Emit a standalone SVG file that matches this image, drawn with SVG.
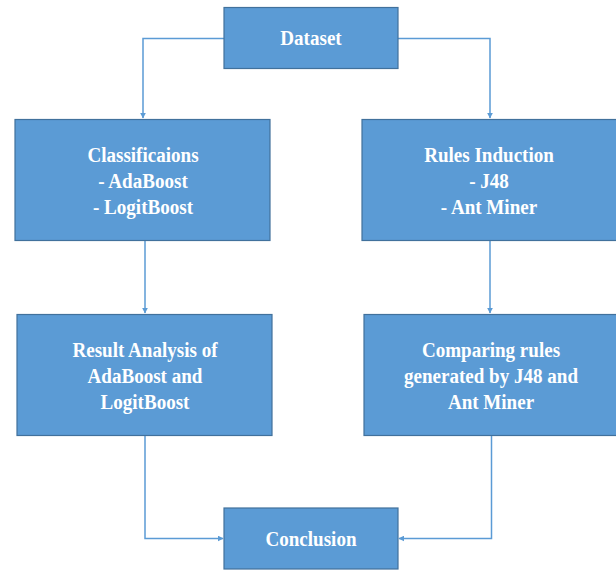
<svg xmlns="http://www.w3.org/2000/svg" width="616" height="571" viewBox="0 0 616 571">
<style>
.box{fill:#5B9BD5;stroke:#41719C;stroke-width:1.2}
.t{fill:#fff;font-family:"Liberation Serif","Times New Roman",serif;font-weight:bold;font-size:20.5px;text-anchor:middle}
.c{fill:none;stroke:#5B9BD5;stroke-width:1.5}
</style>
<defs>
<marker id="ah" viewBox="0 0 10 10" refX="9" refY="5" markerWidth="6" markerHeight="6" orient="auto" markerUnits="userSpaceOnUse">
<path d="M0,0 L10,5 L0,10 z" fill="#5B9BD5"/>
</marker>
</defs>
<rect width="616" height="571" fill="#fff"/>
<g id="connectors">
<path class="c" d="M224,38.5 H143 V118" marker-end="url(#ah)"/>
<path class="c" d="M398,38.5 H490 V118" marker-end="url(#ah)"/>
<path class="c" d="M145,241 V313" marker-end="url(#ah)"/>
<path class="c" d="M490,241 V313" marker-end="url(#ah)"/>
<path class="c" d="M145,436 V538.5 H223" marker-end="url(#ah)"/>
<path class="c" d="M491.5,436 V538.5 H399" marker-end="url(#ah)"/>
</g>
<g id="dataset">
<rect class="box" x="224" y="7.5" width="174" height="61"/>
<text class="t" transform="translate(311,45) scale(0.93,1)">Dataset</text>
</g>
<g id="classifications">
<rect class="box" x="15" y="119.5" width="255" height="121"/>
<text class="t" transform="translate(143,162) scale(0.93,1)">Classificaions</text>
<text class="t" transform="translate(143,188) scale(0.93,1)">- AdaBoost</text>
<text class="t" transform="translate(143,214) scale(0.93,1)">- LogitBoost</text>
</g>
<g id="rules">
<rect class="box" x="362" y="119.5" width="260" height="121"/>
<text class="t" transform="translate(489,162) scale(0.93,1)">Rules Induction</text>
<text class="t" transform="translate(489,188) scale(0.93,1)">- J48</text>
<text class="t" transform="translate(489,214) scale(0.93,1)">- Ant Miner</text>
</g>
<g id="result">
<rect class="box" x="17" y="314.5" width="255" height="121"/>
<text class="t" transform="translate(145,357) scale(0.93,1)">Result Analysis of</text>
<text class="t" transform="translate(145,383) scale(0.93,1)">AdaBoost and</text>
<text class="t" transform="translate(145,409) scale(0.93,1)">LogitBoost</text>
</g>
<g id="comparing">
<rect class="box" x="364" y="314.5" width="260" height="121"/>
<text class="t" transform="translate(491,357) scale(0.93,1)">Comparing rules</text>
<text class="t" transform="translate(491,383) scale(0.93,1)">generated by J48 and</text>
<text class="t" transform="translate(491,409) scale(0.93,1)">Ant Miner</text>
</g>
<g id="conclusion">
<rect class="box" x="224" y="508" width="174" height="61"/>
<text class="t" transform="translate(311,546) scale(0.93,1)">Conclusion</text>
</g>
</svg>
